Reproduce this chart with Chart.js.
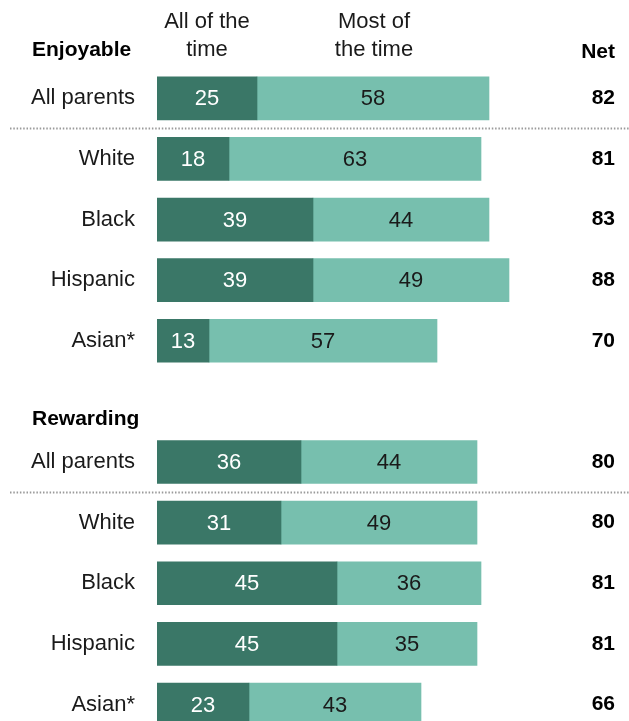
<!DOCTYPE html>
<html>
<head>
<meta charset="utf-8">
<script src="https://cdn.jsdelivr.net/npm/chart.js@4/dist/chart.umd.min.js"></script>
<style>
  html, body { margin: 0; padding: 0; background: #fff; overflow: hidden; }
</style>
</head>
<body>
<canvas id="myChart" width="629" height="770"></canvas>
<script>
// groups shown in each section
const groups = ['All parents', 'White', 'Black', 'Hispanic', 'Asian*'];

// Enjoyable
const enjoyAllTime = [25, 18, 39, 39, 13];
const enjoyMostTime = [58, 63, 44, 49, 57];
const enjoyNet = [82, 81, 83, 88, 70];

// Rewarding
const rewardAllTime = [36, 31, 45, 45, 23];
const rewardMostTime = [44, 49, 36, 35, 43];
const rewardNet = [80, 80, 81, 81, 66];

const sectionTitles = ['Enjoyable', 'Rewarding'];
const seriesNames = [['All of the', 'time'], ['Most of', 'the time']];

// one empty slot between the two sections
const labels = groups.concat([''], groups);
const allTime = enjoyAllTime.concat([null], rewardAllTime);
const mostTime = enjoyMostTime.concat([null], rewardMostTime);
const netValues = enjoyNet.concat([null], rewardNet);

const FONT = '"Liberation Sans", Arial, sans-serif';
const DARK = '#3a7767';
const LIGHT = '#77bfae';

const extras = {
  id: 'extras',
  afterDatasetsDraw(chart) {
    const ctx = chart.ctx;
    ctx.save();
    ctx.textBaseline = 'middle';

    // numbers inside bars
    ctx.font = '22px ' + FONT;
    ctx.textAlign = 'center';
    chart.data.datasets.forEach((ds, di) => {
      const meta = chart.getDatasetMeta(di);
      meta.data.forEach((bar, i) => {
        const v = ds.data[i];
        if (v == null) return;
        ctx.fillStyle = di == 0 ? '#fff' : '#1a1a1a';
        const x = (bar.x + bar.base) / 2;
        ctx.fillText(v, x, bar.y + 1);
      });
    });

    // net column
    const meta0 = chart.getDatasetMeta(0);
    ctx.font = 'bold 21px ' + FONT;
    ctx.textAlign = 'right';
    ctx.fillStyle = '#000';
    netValues.forEach((v, i) => {
      if (v == null) return;
      ctx.fillText(v, 615, meta0.data[i].y);
    });
    ctx.fillText('Net', 615, 52);

    // section titles
    ctx.textAlign = 'left';
    ctx.fillText(sectionTitles[0], 32, 50);
    ctx.fillText(sectionTitles[1], 32, 419);

    // column headers
    ctx.font = '22px ' + FONT;
    ctx.textAlign = 'center';
    ctx.fillStyle = '#1a1a1a';
    ctx.fillText(seriesNames[0][0], 207, 22);
    ctx.fillText(seriesNames[0][1], 207, 50);
    ctx.fillText(seriesNames[1][0], 374, 22);
    ctx.fillText(seriesNames[1][1], 374, 50);

    // dotted lines under "All parents"
    ctx.strokeStyle = '#9a9a9a';
    ctx.lineWidth = 2;
    ctx.setLineDash([1.5, 1.8]);
    [0, 6].forEach(i => {
      const y = Math.round(meta0.data[i].y + 30) + 0.5;
      ctx.beginPath();
      ctx.moveTo(10, y);
      ctx.lineTo(629, y);
      ctx.stroke();
    });
    ctx.restore();
  }
};

const chart = new Chart(document.getElementById('myChart'), {
  type: 'bar',
  data: {
    labels: labels,
    datasets: [
      { label: 'All of the time', data: allTime, backgroundColor: DARK },
      { label: 'Most of the time', data: mostTime, backgroundColor: LIGHT }
    ]
  },
  options: {
    indexAxis: 'y',
    responsive: false,
    animation: false,
    devicePixelRatio: 1,
    barThickness: 43,
    layout: { padding: { top: 68, bottom: 16, left: 0, right: 72 } },
    plugins: { legend: { display: false }, tooltip: { enabled: false } },
    scales: {
      x: { stacked: true, min: 0, max: 100, display: false },
      y: {
        stacked: true,
        border: { display: false },
        grid: { display: false, drawTicks: false },
        ticks: { color: '#1a1a1a', padding: 22, font: { family: FONT, size: 22 } },
        afterFit(scale) { scale.width = 157; }
      }
    }
  },
  plugins: [extras]
});
</script>
</body>
</html>
